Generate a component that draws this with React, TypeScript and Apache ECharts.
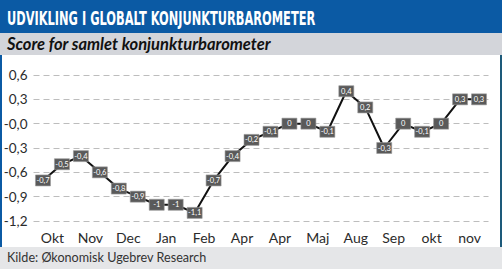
import React, { useEffect, useRef } from "react";
import * as echarts from "echarts";

const TITLE = "UDVIKLING I GLOBALT KONJUNKTURBAROMETER";
const SUBTITLE = "Score for samlet konjunkturbarometer";
const SOURCE = "Kilde: Økonomisk Ugebrev Research";

const monthLabels = ["Okt", "Nov", "Dec", "Jan", "Feb", "Apr", "Apr", "Maj", "Aug", "Sep", "okt", "nov"];
const periods = [
  "Okt a", "Okt b", "Nov a", "Nov b", "Dec a", "Dec b", "Jan a", "Jan b",
  "Feb a", "Feb b", "Apr a", "Apr b", "Apr c", "Apr d", "Maj a", "Maj b",
  "Aug a", "Aug b", "Sep a", "Sep b", "okt a", "okt b", "nov a", "nov b",
];
const scores = [
  -0.7, -0.5, -0.4, -0.6, -0.8, -0.9, -1, -1, -1.1, -0.7, -0.4, -0.2,
  -0.1, 0, 0, -0.1, 0.4, 0.2, -0.3, 0, -0.1, 0, 0.3, 0.3,
];
const yTickLabels = ["-1,2", "-0,9", "-0,6", "-0,3", "-0,0", "0,3", "0,6"];
const yMin = -1.2;
const yMax = 0.6;
const yStep = 0.3;

export default function App() {
  const ref = useRef<HTMLDivElement>(null);
  useEffect(() => {
    document.body.style.margin = "0";
    if (!ref.current) return;
    const chart = echarts.init(ref.current, null, { renderer: "svg" });
    const font = "Lato, 'Open Sans', sans-serif";
    chart.setOption({
      animation: false,
      backgroundColor: "#ffffff",
      grid: { left: 33.5, right: 13.5, top: 75, bottom: 48 },
      xAxis: [
        {
          type: "category",
          data: monthLabels,
          boundaryGap: true,
          axisLine: { show: false },
          axisTick: { show: false },
          axisLabel: { color: "#2b2b2b", fontSize: 14, fontFamily: font, margin: 9 },
          splitLine: { show: false },
        },
        {
          type: "category",
          data: periods,
          boundaryGap: true,
          show: false,
          position: "bottom",
        },
      ],
      yAxis: {
        type: "value",
        min: yMin,
        max: yMax,
        interval: yStep,
        axisLine: { show: false },
        axisTick: { show: false },
        axisLabel: {
          color: "#2b2b2b",
          fontSize: 13.5,
          fontFamily: font,
          margin: 6,
          formatter: (v: number) => yTickLabels[Math.round((v - yMin) / yStep)] ?? "",
        },
        splitLine: { lineStyle: { color: "#bdbdbd", type: [6, 4], width: 1 } },
      },
      series: [
        {
          type: "line",
          xAxisIndex: 1,
          data: scores,
          lineStyle: { color: "#111111", width: 2 },
          symbol: "rect",
          symbolSize: [15, 11],
          itemStyle: { color: "#5a5a5a", borderColor: "#9a9a9a", borderWidth: 0.6 },
          label: {
            show: true,
            position: "inside",
            color: "#ffffff",
            fontSize: 7.5,
            fontFamily: font,
            formatter: (p: any) => String(p.value).replace(".", ","),
          },
          z: 3,
        },
      ],
      graphic: [
        { type: "rect", shape: { x: 0, y: 0, width: 502, height: 33 }, style: { fill: "#0b5aa4" }, z: 1 },
        {
          type: "text",
          x: 7,
          y: 8.5,
          scaleX: 0.6,
          style: {
            text: TITLE,
            fill: "#ffffff",
            font: "bold 19px 'DejaVu Sans', sans-serif",
          },
          z: 2,
        },
        { type: "rect", shape: { x: 0, y: 33, width: 502, height: 22 }, style: { fill: "#d3d5da" }, z: 1 },
        {
          type: "text",
          x: 7,
          y: 35,
          style: {
            text: SUBTITLE,
            fill: "#111111",
            font: "italic bold 16.5px Lato, sans-serif",
          },
          z: 2,
        },
        { type: "rect", shape: { x: 0, y: 55, width: 2, height: 192 }, style: { fill: "#0b5aa4" }, z: 1 },
        { type: "rect", shape: { x: 500, y: 55, width: 2, height: 192 }, style: { fill: "#1d5a7a" }, z: 1 },
        { type: "rect", shape: { x: 0, y: 247, width: 502, height: 22 }, style: { fill: "#e5e6e8" }, z: 1 },
        {
          type: "text",
          x: 7,
          y: 250.5,
          style: {
            text: SOURCE,
            fill: "#333333",
            font: "12.6px Lato, sans-serif",
          },
          z: 2,
        },
      ],
    });
    return () => chart.dispose();
  }, []);
  return <div ref={ref} style={{ width: 502, height: 269 }} />;
}
